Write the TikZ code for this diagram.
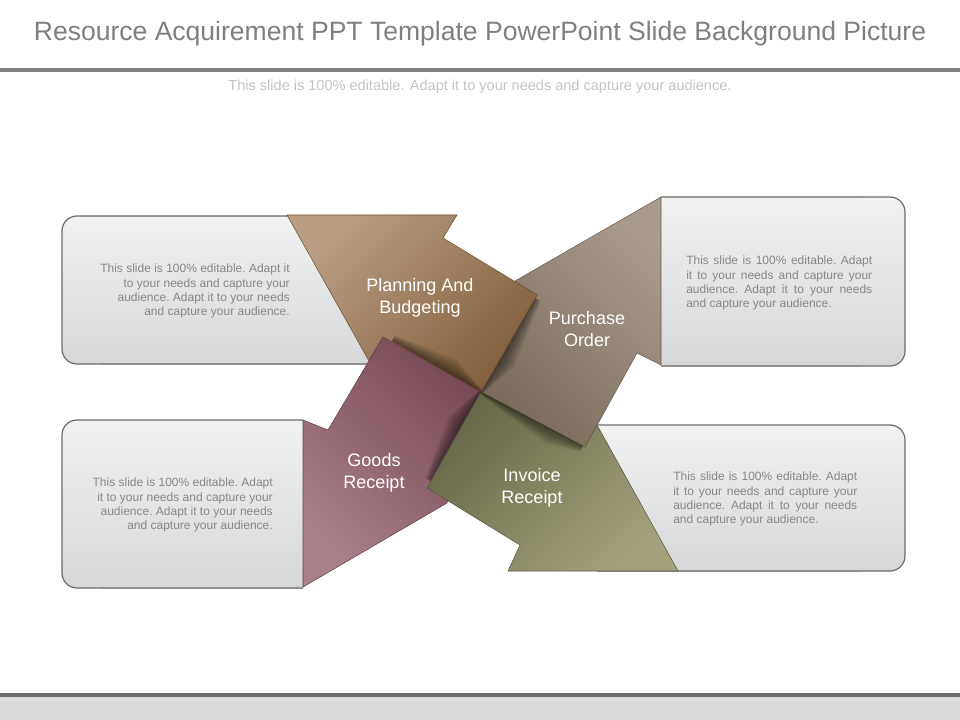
\documentclass[tikz,border=0pt]{standalone}
\usepackage{fontspec}
\setmainfont{Liberation Sans}
\newdimen\pxu \pxu=0.75pt
\definecolor{titlegray}{HTML}{7F7F7F}
\definecolor{subgray}{HTML}{C4C4C4}
\definecolor{bartop}{HTML}{808080}
\definecolor{barbot}{HTML}{6E6E6E}
\definecolor{footbg}{HTML}{D9D9D9}
\definecolor{footline}{HTML}{E3E3E3}
\definecolor{boxtop}{HTML}{F2F2F2}
\definecolor{boxbot}{HTML}{D6D7D9}
\definecolor{boxline}{HTML}{6E6A66}
\definecolor{txtgray}{HTML}{878787}
\definecolor{planL}{HTML}{B89E84}
\definecolor{planD}{HTML}{82603C}
\definecolor{purL}{HTML}{A89A8C}
\definecolor{purD}{HTML}{7A6B5D}
\definecolor{gooD}{HTML}{784A56}
\definecolor{gooL}{HTML}{AA8088}
\definecolor{invD}{HTML}{68684A}
\definecolor{invL}{HTML}{A4A27C}
\tikzset{
  boxfill/.style={top color=boxtop, bottom color=boxbot},
  boxedge/.style={draw=boxline, line width=0.9pt},
  smalltext/.style={font=\fontsize{9pt}{10.6pt}\selectfont\frenchspacing, text=txtgray, inner sep=0pt},
  arrowlabel/.style={font=\fontsize{13.5pt}{16.7pt}\selectfont, text=white, align=center, inner sep=0pt, anchor=north},
  arrowedge/.style={line width=0.4pt},
  shadowlayer/.style={fill=black, fill opacity=0.07},
}
% soft shadow wedge: centre C, far point P, widest point Q, outward unit normal n
\newcommand\cornershade[8]{%
  \foreach \w in {2,4,...,16}{
    \fill[shadowlayer] (#1,#2) -- (#3,#4) -- (#3+0.4*\w*#7,#4+0.4*\w*#8)
      -- (#5+\w*#7,#6+\w*#8) -- (#1+0.15*\w*#7,#2+0.15*\w*#8) -- cycle;
  }}
\begin{document}
\begin{tikzpicture}[x=0.75pt,y=-0.75pt]
\useasboundingbox (0,0) rectangle (960,720);
\fill[white] (0,0) rectangle (960,720);
% header and footer bars
\fill[bartop] (0,68) rectangle (960,72);
\fill[footbg] (0,697) rectangle (960,720);
\fill[barbot] (0,693) rectangle (960,697);
\fill[footline] (0,699) rectangle (960,701);
\node[anchor=base, font=\fontsize{19.9pt}{24pt}\selectfont, text=titlegray, inner sep=0pt] (title) at (480,41) {Resource Acquirement PPT Template PowerPoint Slide Background Picture};
\node[anchor=base, font=\fontsize{10.9pt}{13pt}\selectfont, text=subgray, inner sep=0pt] (subtitle) at (480,91) {This slide is 100\% editable. Adapt it to your needs and capture your audience.};
% boxes
\shade[boxfill, rounded corners=11.25pt] (62,216) rectangle (380,364);
\shade[boxfill] (100,216) rectangle (380,364);
\draw[boxedge, rounded corners=11.25pt] (380,216) -- (62,216) -- (62,364) -- (380,364);
\shade[boxfill, rounded corners=11.25pt] (661,197) rectangle (905,366);
\shade[boxfill] (661,197) rectangle (860,366);
\draw[boxedge, rounded corners=11.25pt] (661,197) -- (905,197) -- (905,366) -- (661,366);
\shade[boxfill, rounded corners=11.25pt] (62,420) rectangle (303,588);
\shade[boxfill] (100,420) rectangle (303,588);
\draw[boxedge, rounded corners=11.25pt] (303,420) -- (62,420) -- (62,588) -- (303,588);
\shade[boxfill, rounded corners=11.25pt] (597,425) rectangle (905,571);
\shade[boxfill] (597,425) rectangle (860,571);
\draw[boxedge, rounded corners=11.25pt] (597,425) -- (905,425) -- (905,571) -- (597,571);
% arrows
\shadedraw[top color=purL, bottom color=purD, shading angle=-45, draw=purD!85!black, arrowedge]
  (661,197) -- (661,365) -- (637,353) -- (585,447) -- (481,392) -- (537,295) -- (515,281) -- cycle;
\cornershade{481}{392}{535}{298}{500}{359}{0.866}{0.5}
\shadedraw[top color=planL, bottom color=planD, shading angle=45, draw=planD!85!black, arrowedge]
  (287,215) -- (457,215) -- (443,238) -- (537,295) -- (481,392) -- (383,337) -- (369,361) -- cycle;
\cornershade{481}{392}{392}{341}{449}{374}{0.49}{-0.872}
\shadedraw[top color=gooD, bottom color=gooL, shading angle=-45, draw=gooD!85!black, arrowedge]
  (383,337) -- (481,392) -- (447,503) -- (303,587) -- (303,420) -- (328,430) -- cycle;
\cornershade{481}{392}{431}{481}{463}{424}{-0.87}{-0.49}
\shadedraw[top color=invD, bottom color=invL, shading angle=45, draw=invD!85!black, arrowedge]
  (481,392) -- (585,447) -- (597,425) -- (678,571) -- (508,571) -- (520,545) -- (427,488) -- cycle;
\cornershade{481}{392}{583}{446}{554}{430}{-0.47}{0.88}
% arrow labels
\node[arrowlabel] (plan) at (420,278) {Planning And\\Budgeting};
\node[arrowlabel] (purchase) at (587,311) {Purchase\\Order};
\node[arrowlabel] (goods) at (374,453) {Goods\\Receipt};
\node[arrowlabel] (invoice) at (532,468) {Invoice\\Receipt};
% box texts
\node[smalltext, align=right, anchor=north east] (tltext) at (290,264)
  {This slide is 100\% editable. Adapt it\\to your needs and capture your\\audience. Adapt it to your needs\\and capture your audience.};
\node[smalltext, align=left, anchor=north west] (trtext) at (686,256)
  {\makebox[186\pxu][s]{This slide is 100\% editable. Adapt}\\\makebox[186\pxu][s]{it to your needs and capture your}\\\makebox[186\pxu][s]{audience. Adapt it to your needs}\\and capture your audience.};
\node[smalltext, align=right, anchor=north east] (bltext) at (273,478)
  {This slide is 100\% editable. Adapt\\it to your needs and capture your\\audience. Adapt it to your needs\\and capture your audience.};
\node[smalltext, align=left, anchor=north west] (brtext) at (673,472)
  {\makebox[184\pxu][s]{This slide is 100\% editable. Adapt}\\\makebox[184\pxu][s]{it to your needs and capture your}\\\makebox[184\pxu][s]{audience. Adapt it to your needs}\\and capture your audience.};
\end{tikzpicture}
\end{document}
